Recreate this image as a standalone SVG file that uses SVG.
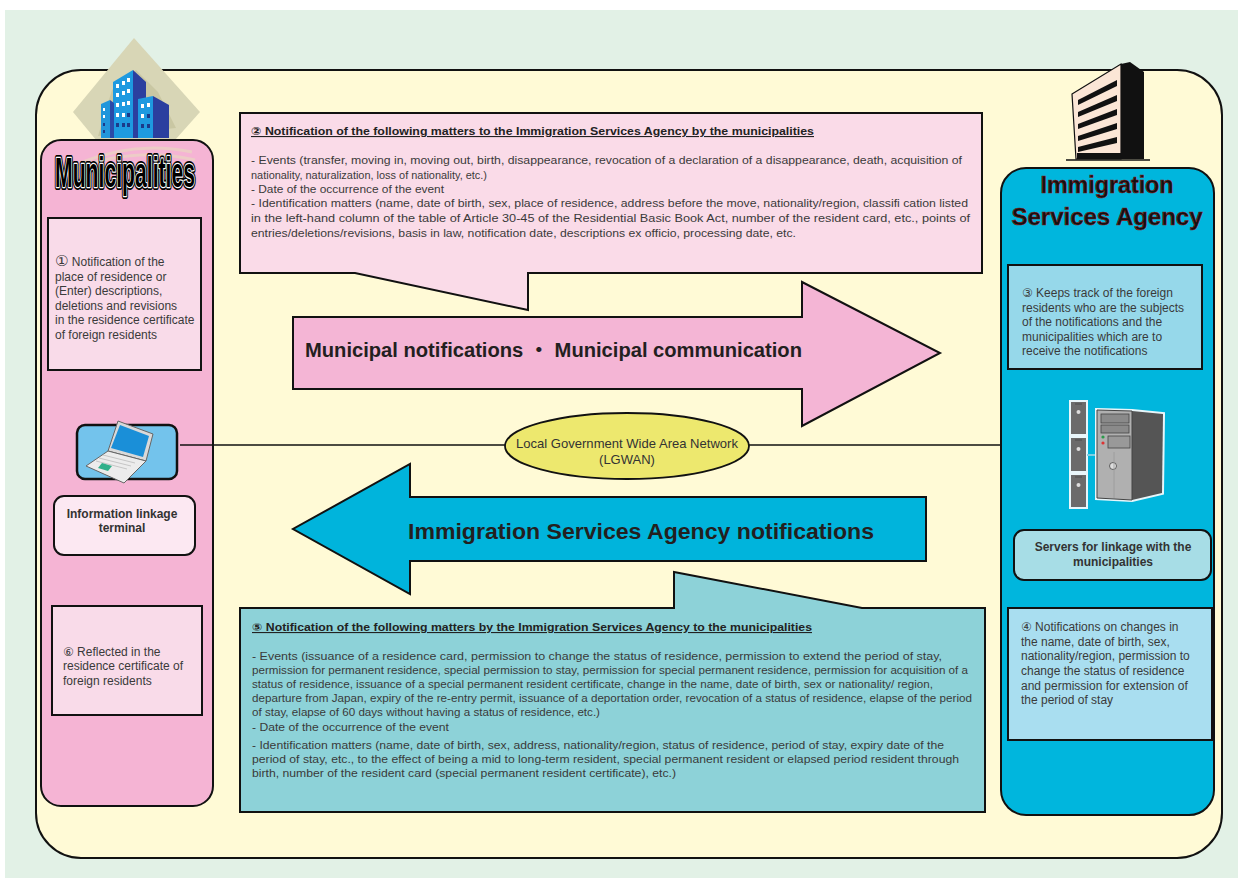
<svg xmlns="http://www.w3.org/2000/svg" width="1242" height="881" viewBox="0 0 1242 881">
<style>
.t{font-family:"Liberation Sans",Arial,"DejaVu Sans","Noto Sans CJK JP",sans-serif}
.b{font-size:11.4px;fill:#3a3a3a}
.b12{font-size:12px;fill:#3a3a3a}
.hd{font-size:11px;font-weight:bold;fill:#222;text-decoration:underline}
.lbl{font-size:12px;font-weight:bold;fill:#333}
.arr{font-weight:bold;fill:#231f20}
.box{stroke:#111;stroke-width:2}
.muni{font-size:42px;font-weight:bold}
</style>
<rect width="1242" height="881" fill="#ffffff"/>
<rect x="5" y="10" width="1233" height="868" fill="#e2f1e6"/>
<rect x="36" y="70" width="1186" height="788" rx="45" fill="#fffad6" stroke="#111" stroke-width="2"/>

<!-- Left municipalities panel -->
<g id="municipalities-icon">
<polygon points="134,38 200,112 134,186 73,112" fill="#d8d6b6"/>
<polygon points="112,90 136,70 158,92 176,128 98,136" fill="#c9c7a3"/>
<polygon points="113,82 133,70 133,138 113,138" fill="#1e9ae0"/>
<polygon points="133,70 146,82 146,138 133,138" fill="#2b3f9f"/>
<polygon points="138,99 153,96 153,138 138,138" fill="#1e9ae0"/>
<polygon points="153,96 169,105 169,138 153,138" fill="#2b3f9f"/>
<polygon points="101,104 110,100 110,138 101,138" fill="#2196db"/>
<polygon points="110,100 114,103 114,138 110,138" fill="#2a4aa8"/>
<g fill="#ffffff">
<rect x="116" y="84" width="3" height="4"/><rect x="122" y="81" width="3" height="4"/><rect x="127" y="78" width="3" height="4"/>
<rect x="116" y="93" width="3" height="4"/><rect x="122" y="91" width="3" height="4"/><rect x="127" y="89" width="3" height="4"/>
<rect x="116" y="103" width="3" height="4"/><rect x="122" y="102" width="3" height="4"/><rect x="127" y="101" width="3" height="4"/>
<rect x="116" y="113" width="3" height="4"/><rect x="122" y="113" width="3" height="4"/>
<rect x="141" y="104" width="3" height="4"/><rect x="147" y="103" width="3" height="4"/>
<rect x="141" y="114" width="3" height="4"/>
<rect x="103" y="108" width="2" height="3"/><rect x="103" y="115" width="2" height="3"/>
</g>
<g fill="#1b3a8a">
<rect x="127" y="113" width="3" height="4"/><rect x="116" y="123" width="3" height="4"/><rect x="122" y="123" width="3" height="4"/><rect x="127" y="123" width="3" height="4"/>
<rect x="147" y="114" width="3" height="4"/><rect x="141" y="124" width="3" height="4"/><rect x="147" y="124" width="3" height="4"/>
<rect x="103" y="123" width="2" height="3"/><rect x="103" y="130" width="2" height="3"/>
</g>
</g>
<g id="municipalities">
<rect x="41" y="140" width="172" height="666" rx="20" fill="#f5b4d4" stroke="#111" stroke-width="2"/>
<g fill="none" stroke="#ecd2c4" stroke-width="3" opacity="0.8">
<path d="M80,163 Q135,140 192,152"/>
<path d="M70,170 Q135,146 195,160"/>
</g>
<text class="t muni" x="55" y="187" textLength="140" lengthAdjust="spacingAndGlyphs" fill="#000" stroke="#000" stroke-width="6" stroke-linejoin="round">Municipalities</text>
<text class="t muni" x="55" y="187" textLength="140" lengthAdjust="spacingAndGlyphs" fill="#fff" stroke="#fff" stroke-width="2.4" stroke-linejoin="round">Municipalities</text>
<text class="t muni" x="55" y="187" textLength="140" lengthAdjust="spacingAndGlyphs" fill="#000">Municipalities</text>
</g>

<g id="box1">
<rect x="48" y="218" width="153" height="152" fill="#f9dbe9" class="box"/>
<text class="t b12"><tspan x="55" y="266"><tspan font-size="15">①</tspan> Notification of the</tspan><tspan x="55" y="281">place of residence or</tspan><tspan x="55" y="295">(Enter) descriptions,</tspan><tspan x="55" y="310">deletions and revisions</tspan><tspan x="55" y="324">in the residence certificate</tspan><tspan x="55" y="339">of foreign residents</tspan></text>
</g>

<!-- Connectors -->
<g id="connectors">
<path d="M180,445 H1070" stroke="#111" stroke-width="1.6" fill="none"/>
</g>

<g id="laptop-terminal">
<rect x="77" y="425" width="100" height="54" rx="8" fill="#73c3ec" stroke="#111" stroke-width="2.5"/>
<polygon points="118,421 153,434 146,461 108,451" fill="#d9d9d9" stroke="#666" stroke-width="1"/>
<polygon points="120,425 149,436 143,457 111,448" fill="#1a8fd8"/>
<polygon points="108,451 146,461 124,483 86,466" fill="#ececec" stroke="#666" stroke-width="1"/>
<g stroke="#bbb" stroke-width="0.8">
<line x1="103" y1="455" x2="135" y2="463"/><line x1="99" y1="458" x2="131" y2="466"/><line x1="96" y1="461" x2="127" y2="469"/>
</g>
<polygon points="102,463 112,466 108,471 98,468" fill="#2fb08a"/>
</g>

<g id="info-terminal-label">
<rect x="54" y="496" width="141" height="59" rx="10" fill="#fce8f2" stroke="#111" stroke-width="2"/>
<text class="t lbl" text-anchor="middle"><tspan x="122" y="518">Information linkage</tspan><tspan x="122" y="532">terminal</tspan></text>
</g>

<g id="box6">
<rect x="52" y="606" width="150" height="109" fill="#f9dbe9" class="box"/>
<text class="t b12"><tspan x="63" y="656">⑥ Reflected in the</tspan><tspan x="63" y="670">residence certificate of</tspan><tspan x="63" y="685">foreign residents</tspan></text>
</g>

<!-- Right agency panel -->
<g id="agency-icon">
<polygon points="1072,94 1121,64 1121,159 1076,159" fill="#fbe6d6" stroke="#111" stroke-width="1.2"/>
<polygon points="1121,64 1130,62 1144,72 1144,159 1121,159" fill="#111"/>
<g fill="#111">
<polygon points="1078,100 1117,80 1117,86 1078,105"/>
<polygon points="1078,112 1117,95 1117,101 1078,117"/>
<polygon points="1078,124 1117,109 1117,115 1078,129"/>
<polygon points="1078,136 1117,123 1117,129 1078,141"/>
<polygon points="1078,147 1117,137 1117,143 1078,152"/>
<rect x="1077" y="153" width="44" height="6"/>
</g>
<line x1="1066" y1="160" x2="1150" y2="160" stroke="#111" stroke-width="1.5"/>
</g>
<g id="immigration-services-agency">
<rect x="1001" y="168" width="213" height="647" rx="25" fill="#00b6dd" stroke="#111" stroke-width="2"/>
<text class="t" font-size="23" font-weight="bold" fill="#111" stroke="#8b1a1a" stroke-width="0.6" text-anchor="middle"><tspan x="1107" y="193" textLength="133" lengthAdjust="spacingAndGlyphs">Immigration</tspan><tspan x="1107" y="225" textLength="191" lengthAdjust="spacingAndGlyphs">Services Agency</tspan></text>
</g>

<g id="box3">
<rect x="1008" y="265" width="194" height="104" fill="#96d8ea" class="box"/>
<text class="t b12"><tspan x="1022" y="297">③ Keeps track of the foreign</tspan><tspan x="1022" y="312">residents who are the subjects</tspan><tspan x="1022" y="326">of the notifications and the</tspan><tspan x="1022" y="341">municipalities which are to</tspan><tspan x="1022" y="355">receive the notifications</tspan></text>
</g>

<g id="server">
<g stroke="#e8f6fa" stroke-width="2">
<rect x="1070" y="401" width="17" height="34" fill="#6b6b6b"/>
<rect x="1070" y="437" width="17" height="35" fill="#6b6b6b"/>
<rect x="1070" y="474" width="17" height="34" fill="#6b6b6b"/>
</g>
<g fill="#ddd"><circle cx="1078.5" cy="412" r="2"/><circle cx="1078.5" cy="449" r="2"/><circle cx="1078.5" cy="485" r="2"/></g>
<g stroke="#444" stroke-width="0.8"><line x1="1075" y1="404" x2="1082" y2="404"/><line x1="1075" y1="440" x2="1082" y2="440"/><line x1="1075" y1="477" x2="1082" y2="477"/></g>
<line x1="1087" y1="455" x2="1097" y2="455" stroke="#7fd0e4" stroke-width="2"/>
<polygon points="1097,410 1132,411 1163,414 1162,493 1132,500 1097,498" fill="none" stroke="#e8f6fa" stroke-width="4"/>
<polygon points="1132,411 1163,414 1162,493 1132,500" fill="#555"/>
<polygon points="1097,410 1132,411 1132,500 1097,498" fill="#b0b0b0" stroke="#444" stroke-width="1"/>
<rect x="1101" y="414" width="28" height="9" fill="#8a8a8a" stroke="#444" stroke-width="0.8"/>
<rect x="1101" y="425" width="28" height="8" fill="#8a8a8a" stroke="#444" stroke-width="0.8"/>
<rect x="1108" y="436" width="22" height="12" fill="#999" stroke="#444" stroke-width="0.8"/>
<circle cx="1103" cy="437" r="1.6" fill="#2a9a4a"/>
<circle cx="1103" cy="443" r="1.6" fill="#d33"/>
<circle cx="1113" cy="466" r="3.5" fill="#ddd" stroke="#444" stroke-width="0.8"/>
<line x1="1114" y1="452" x2="1114" y2="498" stroke="#999" stroke-width="0.8"/>
</g>

<g id="server-label">
<rect x="1014" y="530" width="197" height="50" rx="10" fill="#a7dde6" stroke="#111" stroke-width="2"/>
<text class="t lbl" text-anchor="middle"><tspan x="1113" y="551">Servers for linkage with the</tspan><tspan x="1113" y="566">municipalities</tspan></text>
</g>

<g id="box4">
<rect x="1008" y="608" width="204" height="132" fill="#a9def0" class="box"/>
<text class="t b12"><tspan x="1021" y="631">④ Notifications on changes in</tspan><tspan x="1021" y="646">the name, date of birth, sex,</tspan><tspan x="1021" y="660">nationality/region, permission to</tspan><tspan x="1021" y="675">change the status of residence</tspan><tspan x="1021" y="690">and permission for extension of</tspan><tspan x="1021" y="704">the period of stay</tspan></text>
</g>

<!-- Callout 2 -->
<g id="callout2">
<path d="M240,113 H982 V273 H528 V310 L355,273 H240 Z" fill="#fadbe8" stroke="#111" stroke-width="2"/>
<text class="t hd" x="251" y="135" textLength="563" lengthAdjust="spacingAndGlyphs">② Notification of the following matters to the Immigration Services Agency by the municipalities</text>
<text class="t b" x="251" y="164" textLength="711" lengthAdjust="spacingAndGlyphs">- Events (transfer, moving in, moving out, birth, disappearance, revocation of a declaration of a disappearance, death, acquisition of</text>
<text class="t b" x="251" y="179" textLength="236" lengthAdjust="spacingAndGlyphs">nationality, naturalization, loss of nationality, etc.)</text>
<text class="t b" x="251" y="193" textLength="193" lengthAdjust="spacingAndGlyphs">- Date of the occurrence of the event</text>
<text class="t b" x="251" y="207" textLength="717" lengthAdjust="spacingAndGlyphs">- Identification matters (name, date of birth, sex, place of residence, address before the move, nationality/region, classifi cation listed</text>
<text class="t b" x="251" y="222" textLength="719" lengthAdjust="spacingAndGlyphs">in the left-hand column of the table of Article 30-45 of the Residential Basic Book Act, number of the resident card, etc., points of</text>
<text class="t b" x="251" y="237" textLength="545" lengthAdjust="spacingAndGlyphs">entries/deletions/revisions, basis in law, notification date, descriptions ex officio, processing date, etc.</text>
</g>

<!-- Arrows -->
<g id="municipal-arrow">
<polygon points="293,317 802,317 802,282 940,353 802,426 802,389 293,389" fill="#f4b5d5" stroke="#111" stroke-width="2"/>
<text class="t arr" x="305" y="357" font-size="20" textLength="497" lengthAdjust="spacingAndGlyphs">Municipal notifications <tspan font-family="'Noto Sans CJK JP',sans-serif">・</tspan> Municipal communication</text>
</g>

<g id="lgwan">
<ellipse cx="627" cy="446" rx="122" ry="33" fill="#ede86e" stroke="#111" stroke-width="1.8"/>
<text class="t" font-size="13" fill="#333" text-anchor="middle"><tspan x="627" y="448" textLength="222" lengthAdjust="spacingAndGlyphs">Local Government Wide Area Network</tspan><tspan x="627" y="464">(LGWAN)</tspan></text>
</g>

<g id="agency-arrow">
<polygon points="926,497 410,497 410,464 293,529 410,594 410,561 926,561" fill="#00b4dc" stroke="#111" stroke-width="2"/>
<text class="t arr" x="408" y="539" font-size="22" textLength="466" lengthAdjust="spacingAndGlyphs">Immigration Services Agency notifications</text>
</g>

<!-- Callout 5 -->
<g id="callout5">
<path d="M240,608 H674 V572 L862,608 H985 V812 H240 Z" fill="#8dd2d8" stroke="#111" stroke-width="2"/>
<text class="t hd" x="252" y="631" textLength="560" lengthAdjust="spacingAndGlyphs">⑤ Notification of the following matters by the Immigration Services Agency to the municipalities</text>
<text class="t b" x="252" y="660" textLength="690" lengthAdjust="spacingAndGlyphs">- Events (issuance of a residence card, permission to change the status of residence, permission to extend the period of stay,</text>
<text class="t b" x="252" y="674" textLength="716" lengthAdjust="spacingAndGlyphs">permission for permanent residence, special permission to stay, permission for special permanent residence, permission for acquisition of a</text>
<text class="t b" x="252" y="688" textLength="681" lengthAdjust="spacingAndGlyphs">status of residence, issuance of a special permanent resident certificate, change in the name, date of birth, sex or nationality/ region,</text>
<text class="t b" x="252" y="702" textLength="720" lengthAdjust="spacingAndGlyphs">departure from Japan, expiry of the re-entry permit, issuance of a deportation order, revocation of a status of residence, elapse of the period</text>
<text class="t b" x="252" y="716" textLength="348" lengthAdjust="spacingAndGlyphs">of stay, elapse of 60 days without having a status of residence, etc.)</text>
<text class="t b" x="252" y="731" textLength="197" lengthAdjust="spacingAndGlyphs">- Date of the occurrence of the event</text>
<text class="t b" x="252" y="749" textLength="692" lengthAdjust="spacingAndGlyphs">- Identification matters (name, date of birth, sex, address, nationality/region, status of residence, period of stay, expiry date of the</text>
<text class="t b" x="252" y="763" textLength="707" lengthAdjust="spacingAndGlyphs">period of stay, etc., to the effect of being a mid to long-term resident, special permanent resident or elapsed period resident through</text>
<text class="t b" x="252" y="777" textLength="424" lengthAdjust="spacingAndGlyphs">birth, number of the resident card (special permanent resident certificate), etc.)</text>
</g>
</svg>
